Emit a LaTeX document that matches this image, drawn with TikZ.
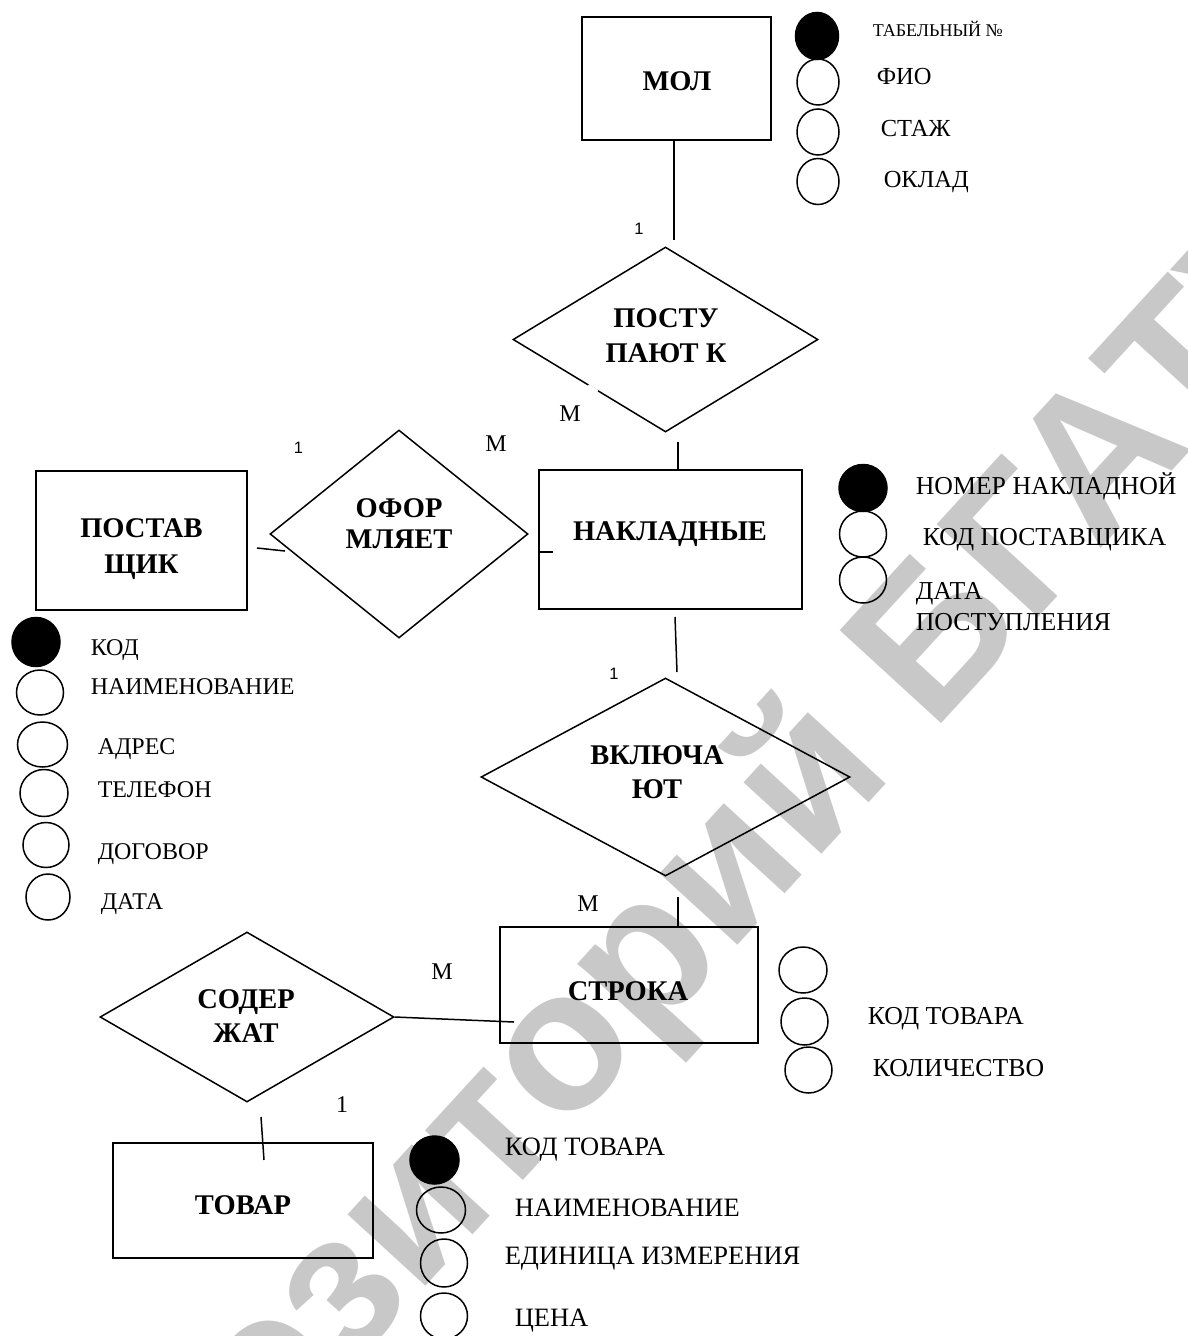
\documentclass[tikz,border=0pt]{standalone}
\usepackage{fontspec}
\setmainfont{Liberation Serif}
\newfontfamily\wmfont{Liberation Sans}
\newfontfamily\lblsans{Liberation Sans}
\usetikzlibrary{shapes.geometric,calc}
\definecolor{wmgray}{RGB}{200,200,200}
\begin{document}
\begin{tikzpicture}[x=1pt,y=-1pt,line width=1.5pt,
  ent/.style={draw,rectangle,inner sep=0pt,line width=1.7pt},
  rel/.style={draw,diamond,inner sep=0pt,line width=1.5pt},
  keyattr/.style={draw,fill=black,ellipse,inner sep=0pt,line width=1.5pt},
  attr/.style={draw,ellipse,inner sep=0pt,line width=1.5pt},
  bigt/.style={font=\bfseries\fontsize{28.5}{34}\selectfont,align=center,inner sep=0pt},
  bigone/.style={font=\bfseries\fontsize{28.5}{34}\selectfont,inner sep=0pt,text height=18.7pt,text depth=0pt},
  atxA/.style={anchor=west,inner sep=0pt,text depth=0pt,text height=15.7pt,font=\fontsize{24}{24}\selectfont},
  atxB/.style={anchor=west,inner sep=0pt,text depth=0pt,text height=16.0pt,font=\fontsize{24.5}{24.5}\selectfont},
  atxC/.style={anchor=west,inner sep=0pt,text depth=0pt,text height=16.9pt,font=\fontsize{25.8}{25.8}\selectfont},
  atxD/.style={anchor=west,inner sep=0pt,text depth=0pt,text height=17.4pt,font=\fontsize{26.5}{26.5}\selectfont},
  atxS/.style={anchor=west,inner sep=0pt,text depth=0pt,text height=11.8pt,font=\fontsize{18}{18}\selectfont},
  mlab/.style={inner sep=0pt,font=\fontsize{24}{24}\selectfont},
  slab/.style={inner sep=0pt,font=\lblsans\fontsize{16.5}{16.5}\selectfont},
  wm/.style={text=wmgray,font=\wmfont\bfseries\fontsize{200}{200}\selectfont,inner sep=0pt}
]
\useasboundingbox (0,0) rectangle (1187,1336);
% watermark
\node[wm,rotate=47.5,anchor=base] (wmark) at (690,998) {Репозиторий БГАТУ};

% entities
\node[ent,minimum width=189pt,minimum height=123pt] (mol) at (676.5,78.5) {};
\node[ent,minimum width=263pt,minimum height=139pt] (nakl) at (670.5,539.5) {};
\node[ent,minimum width=211pt,minimum height=139pt] (post) at (141.5,540.5) {};
\node[ent,minimum width=258pt,minimum height=116pt] (stroka) at (629,985) {};
\node[ent,minimum width=260pt,minimum height=115pt] (tovar) at (243,1200.5) {};

\node[bigone] (molt) at (677,81) {МОЛ};
\node[bigone] (naklt) at (670,531) {НАКЛАДНЫЕ};
\node[bigt,font=\bfseries\fontsize{28.5}{36}\selectfont] (postt) at (141.5,549) {ПОСТАВ\\ЩИК};
\node[bigone] (strokat) at (628,991) {СТРОКА};
\node[bigone] (tovart) at (243,1205) {ТОВАР};

% relationships
\node[rel,minimum width=305pt,minimum height=185pt] (postu) at (665.5,339.5) {};
\node[rel,minimum width=258pt,minimum height=208pt] (ofor) at (399,534) {};
\node[rel,minimum width=369pt,minimum height=198pt] (vkl) at (665.5,777) {};
\node[rel,minimum width=294pt,minimum height=170pt] (soder) at (247,1017) {};

\draw[white,line width=3.5pt] ($(postu.west)!0.495!(postu.south)$) -- ($(postu.west)!0.557!(postu.south)$);

\node[bigt,font=\bfseries\fontsize{28.5}{35}\selectfont] (postut) at (666,336) {ПОСТУ\\ПАЮТ К};
\node[bigt,font=\bfseries\fontsize{28.5}{31}\selectfont] (ofort) at (399,524) {ОФОР\\МЛЯЕТ};
\node[bigt,font=\bfseries\fontsize{28.5}{33.5}\selectfont] (vklt) at (657,772) {ВКЛЮЧА\\ЮТ};
\node[bigt,font=\bfseries\fontsize{28.5}{34}\selectfont] (sodert) at (246,1016.5) {СОДЕР\\ЖАТ};

% connectors
\coordinate (e1) at (674,240);
\draw (e1 |- mol.south) -- (e1);
\coordinate (e2) at (678,442);
\draw (e2) -- (e2 |- nakl.north);
\coordinate (e3a) at (675,617);
\coordinate (e3b) at (677,672);
\draw (e3a) -- (e3b);
\coordinate (e4) at (678,897);
\draw (e4) -- (e4 |- stroka.north);
\coordinate (e5a) at (540,552);
\coordinate (e5b) at (553,552);
\draw (e5a) -- (e5b);
\coordinate (e6a) at (257,548);
\coordinate (e6b) at (285,551);
\draw (e6a) -- (e6b);
\coordinate (e7) at (514,1022);
\draw (soder.east) -- (e7);
\coordinate (e8a) at (261,1117);
\coordinate (e8b) at (264,1160);
\draw (e8a) -- (e8b);

% cardinality labels
\node[slab] (l1) at (639,229) {1};
\node[mlab] (l2) at (570,413.5) {М};
\node[mlab] (l3) at (496,443.5) {М};
\node[slab] (l4) at (298.5,447.5) {1};
\node[slab] (l5) at (614,674) {1};
\node[mlab] (l6) at (588,903.5) {М};
\node[mlab] (l7) at (442,971.5) {М};
\node[mlab] (l8) at (342,1105) {1};

% MOL attributes
\node[keyattr,minimum width=43pt,minimum height=47pt] (ma1) at (817,36) {};
\node[attr,minimum width=42pt,minimum height=46pt] (ma2) at (818,82) {};
\node[attr,minimum width=42pt,minimum height=46pt] (ma3) at (818,132) {};
\node[attr,minimum width=42pt,minimum height=46pt] (ma4) at (818,181.5) {};
\node[atxS] (mt1) at (872,31) {ТАБЕЛЬНЫЙ №};
\node[atxB] (mt2) at (876,76) {ФИО};
\node[atxB] (mt3) at (880,128.5) {СТАЖ};
\node[atxB] (mt4) at (883,179) {ОКЛАД};

% NAKL attributes
\node[keyattr,minimum width=48pt,minimum height=47pt] (na1) at (863,488) {};
\node[attr,minimum width=47pt,minimum height=46pt] (na2) at (863,534) {};
\node[attr,minimum width=47pt,minimum height=46pt] (na3) at (863,580) {};
\node[atxC] (nt1) at (915,486) {НОМЕР НАКЛАДНОЙ};
\node[atxC] (nt2) at (922,537.5) {КОД ПОСТАВЩИКА};
\node[atxC] (nt3) at (915,591) {ДАТА};
\node[atxC] (nt4) at (915,622) {ПОСТУПЛЕНИЯ};

% POST attributes
\node[keyattr,minimum width=48pt,minimum height=49pt] (pa1) at (36,642) {};
\node[attr,minimum width=47pt,minimum height=45pt] (pa2) at (40,692.5) {};
\node[attr,minimum width=50pt,minimum height=45pt] (pa3) at (42.5,744.5) {};
\node[attr,minimum width=48pt,minimum height=47pt] (pa4) at (44,793) {};
\node[attr,minimum width=46pt,minimum height=45pt] (pa5) at (46,845) {};
\node[attr,minimum width=44pt,minimum height=46pt] (pa6) at (48,897) {};
\node[atxA] (pt1) at (90,647.5) {КОД};
\node[atxA] (pt2) at (90,687) {НАИМЕНОВАНИЕ};
\node[atxA] (pt3) at (97,746.5) {АДРЕС};
\node[atxA] (pt4) at (97,790) {ТЕЛЕФОН};
\node[atxA] (pt5) at (97,851.5) {ДОГОВОР};
\node[atxA] (pt6) at (100,901.5) {ДАТА};

% STROKA attributes
\node[attr,minimum width=48pt,minimum height=46pt] (sa1) at (803,970) {};
\node[attr,minimum width=47pt,minimum height=47pt] (sa2) at (804.5,1021.5) {};
\node[attr,minimum width=47pt,minimum height=46pt] (sa3) at (808.5,1070) {};
\node[atxC] (st1) at (867,1016.5) {КОД ТОВАРА};
\node[atxC] (st2) at (872,1068) {КОЛИЧЕСТВО};

% TOVAR attributes
\node[keyattr,minimum width=49pt,minimum height=48pt] (ta1) at (434.5,1160) {};
\node[attr,minimum width=49pt,minimum height=46pt] (ta2) at (441,1210) {};
\node[attr,minimum width=47pt,minimum height=48pt] (ta3) at (444,1263) {};
\node[attr,minimum width=47pt,minimum height=46pt] (ta4) at (444,1316) {};
\node[atxD] (tt1) at (504,1147) {КОД ТОВАРА};
\node[atxD] (tt2) at (514,1208) {НАИМЕНОВАНИЕ};
\node[atxD] (tt3) at (504,1256) {ЕДИНИЦА ИЗМЕРЕНИЯ};
\node[atxD] (tt4) at (514,1318) {ЦЕНА};
\end{tikzpicture}
\end{document}
